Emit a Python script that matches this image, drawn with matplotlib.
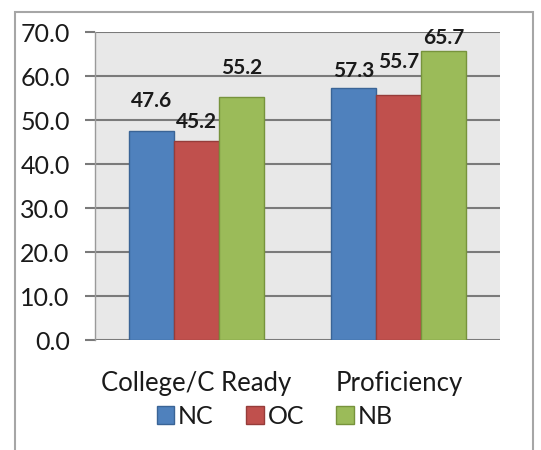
import numpy as np
import matplotlib.pyplot as plt
from matplotlib.patches import Rectangle, Patch

# data
categories = ['College/C Ready', 'Proficiency']
series = ['NC', 'OC', 'NB']
nc = [47.6, 57.3]
oc = [45.2, 55.7]
nb = [55.2, 65.7]

colors = ['#4F81BD', '#C0504D', '#9BBB59']
edges = ['#3A6496', '#963C3A', '#77933C']
# label nudges (points above bar top), one per bar in each series
label_dy = [[21, 12], [14, 24], [21, 9]]

plt.rcParams['font.family'] = ['Lato', 'DejaVu Sans']

fig = plt.figure(figsize=(5.41, 4.50), dpi=100)
ax = fig.add_axes([95/541, 1-340/450, 405/541, 308/450])

x = np.arange(len(categories))
w = 0.222
for i, vals in enumerate([nc, oc, nb]):
    pos = x + (i-1)*w
    ax.bar(pos, vals, width=w, color=colors[i], edgecolor=edges[i], linewidth=1.0,
           label=series[i], zorder=3)
    for p, v, dy in zip(pos, vals, label_dy[i]):
        ax.annotate('%.1f' % v, (p, v), xytext=(0, dy), textcoords='offset points',
                    ha='center', va='center', fontsize=15, fontweight='bold', color='#1a1a1a')

ax.set_xlim(-0.5, 1.5)
ax.set_ylim(0, 70)
ax.set_yticks(np.arange(0, 71, 10))
ax.set_yticklabels(['%.1f' % t for t in np.arange(0, 71, 10)])
ax.set_xticks(x)
ax.set_xticklabels(categories)
ax.set_facecolor('#e8e8e8')
ax.grid(axis='y', color='#7a7a7a', linewidth=1.5, zorder=0)
ax.set_axisbelow(True)
for s in ['top', 'right', 'bottom']:
    ax.spines[s].set_visible(False)
ax.spines['left'].set_color('#9a9a9a')
ax.spines['left'].set_linewidth(1.0)
ax.tick_params(axis='y', length=7.2, width=1.5, color='#7a7a7a', labelsize=18, pad=11,
               labelcolor='#1a1a1a')
ax.tick_params(axis='x', length=0, labelsize=18.5, pad=22, labelcolor='#1a1a1a')

handles = [Patch(facecolor=colors[i], edgecolor=edges[i], label=series[i]) for i in range(3)]
fig.legend(handles=handles, loc='center', bbox_to_anchor=(0.508, 1-416/450), ncol=3,
           frameon=False, fontsize=18, handlelength=0.7, handleheight=0.7,
           handletextpad=0.15, columnspacing=1.3, labelcolor='#1a1a1a')

# outer chart border
fig.patches.append(Rectangle((15/541, -0.05), 518/541, 1.05-12/450, transform=fig.transFigure,
                             fill=False, edgecolor='#a6a6a6', linewidth=1.5))

fig.savefig('out.png', dpi=100)
